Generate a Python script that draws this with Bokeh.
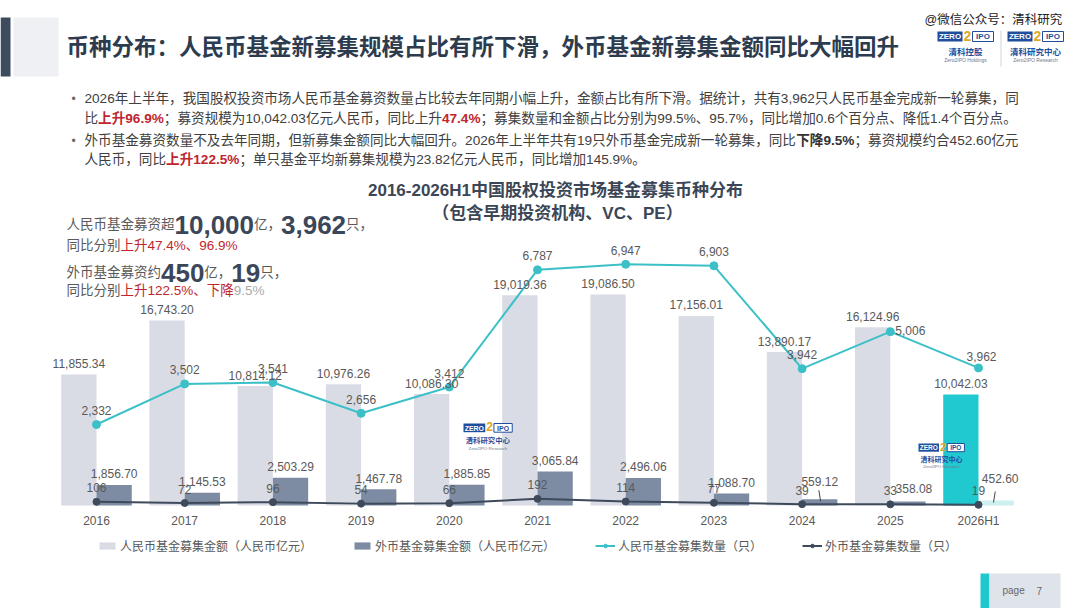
from bokeh.plotting import figure
from bokeh.models import ColumnDataSource, Range1d, Label, BoxAnnotation, Legend, LegendItem
from bokeh.core.properties import value
from bokeh.embed import file_html
from bokeh.resources import INLINE

# ---------------- data ----------------
years = ["2016", "2017", "2018", "2019", "2020", "2021", "2022", "2023", "2024", "2025", "2026H1"]
rmb_amount = [11855.34, 16743.20, 10814.12, 10976.26, 10086.30, 19019.36, 19086.50, 17156.01, 13890.17, 16124.96, 10042.03]
fx_amount = [1856.70, 1145.53, 2503.29, 1467.78, 1885.85, 3065.84, 2496.06, 1088.70, 559.12, 358.08, 452.60]
rmb_count = [2332, 3502, 3541, 2656, 3412, 6787, 6947, 6903, 3942, 5006, 3962]
fx_count = [106, 72, 96, 54, 66, 192, 114, 77, 39, 33, 19]

legend_labels = ["人民币基金募集金额（人民币亿元）", "外币基金募集金额（人民币亿元）",
                 "人民币基金募集数量（只）", "外币基金募集数量（只）"]

page_title = "币种分布：人民币基金新募集规模占比有所下滑，外币基金新募集金额同比大幅回升"
chart_title_1 = "2016-2026H1中国股权投资市场基金募集币种分布"
chart_title_2 = "（包含早期投资机构、VC、PE）"

# ---------------- style ----------------
FONT = "'Liberation Sans', 'Noto Sans CJK SC'"
GRAY = "#595959"
BODY = "#404040"
DARK = "#2d3b4f"
NUMDARK = "#3b4759"
RED = "#c0262d"
RMB_C = "#d9dce5"
FX_C = "#7d8ca3"
HL_RMB = "#1fc9cf"
HL_FX = "#cdeff0"
LINE_RMB = "#3cc0c8"
LINE_FX = "#3e4a5b"

W, H = 1080, 608
X0, STEP, BASE = 96.0, 88.2, 505.0      # pixel of first category, spacing, baseline
AMT_PX = 90.5                          # amount units per pixel
CNT_PX = 28.8                          # count units per pixel

p = figure(width=W, height=H, title=None, output_backend="svg", toolbar_location=None,
           x_range=Range1d(-X0 / STEP, (W - X0) / STEP),
           y_range=Range1d(-(H - BASE) * AMT_PX, BASE * AMT_PX),
           x_axis_type=None, y_axis_type=None, min_border=0,
           outline_line_color=None, background_fill_color="white", border_fill_color="white")
p.extra_y_ranges = {"cnt": Range1d(-(H - BASE) * CNT_PX, BASE * CNT_PX)}


def SY(y):
    return H - y


LAT = {".": 0.278, ",": 0.278, "%": 0.889, "-": 0.333, " ": 0.278, "H": 0.722,
       "V": 0.667, "C": 0.722, "P": 0.667, "E": 0.667, "@": 1.015}


def tw(s, size):
    w = 0.0
    for ch in s:
        if ord(ch) >= 0x2E80:
            w += 1.0
        elif ch.isdigit():
            w += 0.556
        else:
            w += LAT.get(ch, 0.6)
    return w * size


def lab(x, y, text, size, color=GRAY, bold=False, align="left", baseline="middle"):
    p.add_layout(Label(x=x, y=SY(y), x_units="screen", y_units="screen", text=text,
                       text_font=FONT, text_font_size=f"{size}px", text_color=color,
                       text_font_style="bold" if bold else "normal",
                       text_align=align, text_baseline=baseline))


def rich(x, y, segs, baseline="alphabetic"):
    for text, size, color, bold in segs:
        lab(x, y, text, size, color, bold, baseline=baseline)
        x += tw(text, size)


def box(l, t, r, b, color, line=None):
    p.add_layout(BoxAnnotation(left=l, right=r, top=SY(t), bottom=SY(b),
                               left_units="screen", right_units="screen",
                               top_units="screen", bottom_units="screen",
                               fill_color=color, fill_alpha=1.0,
                               line_color=line, line_alpha=1.0 if line else 0.0, line_width=1))


def logo(x, y, sub1, sub2, s=1.0):
    box(x, y, x + 25 * s, y + 10 * s, "#1f4e9c")
    lab(x + 12.5 * s, y + 5.2 * s, "ZERO", 8 * s, "white", True, "center")
    lab(x + 30 * s, y + 4 * s, "2", 14 * s, "#e0a826", True, "center")
    box(x + 35 * s, y, x + 56 * s, y + 10 * s, "white", "#1f4e9c")
    lab(x + 45.5 * s, y + 5.2 * s, "IPO", 8 * s, "#1f4e9c", True, "center")
    lab(x + 28 * s, y + 20 * s, sub1, 8.5 * s, "#1f4e9c", True, "center")
    lab(x + 28 * s, y + 28.5 * s, sub2, 5 * s, "#6b7a90", False, "center")


# ---------------- header ----------------
box(0, 17, 10, 76, "#3d4b5e")
box(13, 17, 58, 76, "#eef0f4")
lab(66, 47, page_title, 22.5, DARK, True)
lab(924, 19, "@微信公众号：清科研究", 12.5, "#222222")
logo(937, 31, "清科控股", "Zero2IPO Holdings")
box(1000, 30, 1001, 66, "#d0d4da")
logo(1007, 31, "清科研究中心", "Zero2IPO Research")

BS = 13.6
bullets = [
    (98, [("2026年上半年，我国股权投资市场人民币基金募资数量占比较去年同期小幅上升，金额占比有所下滑。据统计，共有3,962只人民币基金完成新一轮募集，同", BODY, False)], True),
    (118, [("比", BODY, False), ("上升96.9%", RED, True),
           ("；募资规模为10,042.03亿元人民币，同比上升", BODY, False), ("47.4%", RED, True),
           ("；募集数量和金额占比分别为99.5%、95.7%，同比增加0.6个百分点、降低1.4个百分点。", BODY, False)], False),
    (140, [("外币基金募资数量不及去年同期，但新募集金额同比大幅回升。2026年上半年共有19只外币基金完成新一轮募集，同比", BODY, False),
           ("下降9.5%", "#333333", True), ("；募资规模约合452.60亿元", BODY, False)], True),
    (159, [("人民币，同比", BODY, False), ("上升122.5%", RED, True),
           ("；单只基金平均新募集规模为23.82亿元人民币，同比增加145.9%。", BODY, False)], False),
]
for yy, segs, dot in bullets:
    if dot:
        lab(71, yy, "•", 12, "#666666")
    rich(84, yy, [(t, BS, c, b) for t, c, b in segs], baseline="middle")

# chart titles
lab(555, 190, chart_title_1, 17, "#3b4656", True, "center")
lab(557, 213, chart_title_2, 17, "#3b4656", True, "center")

# left call-out
rich(66, 224, [("人民币基金募资超", 13.5, GRAY, False), ("10,000", 26, NUMDARK, True),
               ("亿，", 13.5, GRAY, False), ("3,962", 26, NUMDARK, True), ("只，", 13.5, GRAY, False)])
rich(66, 245, [("同比分别", 13.5, GRAY, False), ("上升47.4%、96.9%", 13.5, RED, False)])
rich(66, 272, [("外币基金募资约", 13.5, GRAY, False), ("450", 26, NUMDARK, True),
               ("亿，", 13.5, GRAY, False), ("19", 26, NUMDARK, True), ("只，", 13.5, GRAY, False)])
rich(66, 290, [("同比分别", 13.5, GRAY, False), ("上升122.5%、下降", 13.5, RED, False), ("9.5%", 13.5, "#aaaaaa", False)])

# ---------------- chart ----------------
n = len(years)
idx = list(range(n))
last = n - 1

rc_dx = [0] * n
rc_dy = [-14] * n
rc_dx[9], rc_dy[9] = 20, -1
rc_dx[10], rc_dy[10] = 3, -11
fx_dx = [0] * n
fx_dy = [-11] * n
fx_dy[8] = -18
fx_dx[9], fx_dy[9] = 6, -13
fx_dx[10], fx_dy[10] = 4, -22

src = ColumnDataSource(dict(
    x=idx, xr=[i - 0.2 for i in idx], xf=[i + 0.2 for i in idx], year=years,
    rmb=rmb_amount, fx=fx_amount, rc=rmb_count, fc=fx_count,
    rmb_lbl=[f"{v:,.2f}" for v in rmb_amount], fx_lbl=[f"{v:,.2f}" for v in fx_amount],
    rc_lbl=[f"{v:,}" for v in rmb_count], fc_lbl=[f"{v:,}" for v in fx_count],
    rmb_col=[HL_RMB if i == last else RMB_C for i in idx],
    fx_col=[HL_FX if i == last else FX_C for i in idx],
    rc_dx=rc_dx, rc_dy=rc_dy, fx_dx=fx_dx, fx_dy=fx_dy,
))

r_rmb = p.vbar(x="xr", top="rmb", bottom=0, width=0.4, fill_color="rmb_col", line_color=None, source=src)
r_fx = p.vbar(x="xf", top="fx", bottom=0, width=0.4, fill_color="fx_col", line_color=None, source=src)

# leader lines for the smallest foreign-currency bars
lead = [8, 10]
p.segment(x0=[idx[i] + 0.19 for i in lead], y0=[fx_amount[i] + 9 * AMT_PX for i in lead],
          x1=[idx[i] + 0.21 if i == 8 else idx[i] + 0.17 for i in lead],
          y1=[fx_amount[i] - 2 * AMT_PX for i in lead], line_color="#444444", line_width=1)

r_l1 = p.line(x="x", y="rc", y_range_name="cnt", line_color=LINE_RMB, line_width=2, source=src)
r_d1 = p.scatter(x="x", y="rc", y_range_name="cnt", size=8, fill_color=LINE_RMB, line_color=LINE_RMB, source=src)
r_l2 = p.line(x="x", y="fc", y_range_name="cnt", line_color=LINE_FX, line_width=2, source=src)
r_d2 = p.scatter(x="x", y="fc", y_range_name="cnt", size=7, fill_color=LINE_FX, line_color=LINE_FX, source=src)

tkw = dict(text_font=value(FONT), text_font_size="12px", text_color=GRAY,
           text_align="center", text_baseline="middle", source=src)
p.text(x="xr", y="rmb", text="rmb_lbl", y_offset=-11, **tkw)
p.text(x="xf", y="fx", text="fx_lbl", x_offset="fx_dx", y_offset="fx_dy", **tkw)
p.text(x="x", y="rc", text="rc_lbl", y_range_name="cnt", x_offset="rc_dx", y_offset="rc_dy", **tkw)
p.text(x="x", y="fc", text="fc_lbl", y_range_name="cnt", y_offset=-14, **tkw)
p.text(x="x", y=0, text="year", y_offset=15, **tkw)

# in-chart watermarks
logo(463, 423, "清科研究中心", "Zero2IPO Research", 0.87)
logo(918, 443, "清科研究中心", "Zero2IPO Research", 0.82)

# legend
legend = Legend(items=[
    LegendItem(label=legend_labels[0], renderers=[r_rmb], index=0),
    LegendItem(label=legend_labels[1], renderers=[r_fx], index=0),
    LegendItem(label=legend_labels[2], renderers=[r_l1, r_d1]),
    LegendItem(label=legend_labels[3], renderers=[r_l2, r_d2]),
], orientation="horizontal", location=(97, 53), spacing=40, glyph_width=20, glyph_height=9,
    label_standoff=3, label_text_font=FONT, label_text_font_size="12px", label_text_color=GRAY,
    label_height=20, padding=0, margin=0, border_line_alpha=0, background_fill_alpha=0)
p.add_layout(legend)

# footer page box
box(980, 573, 989, 608, "#1fc8cc")
box(989, 573, 1060, 608, "#dfe3ea")
lab(1002, 590, "page", 10, "#666666")
lab(1036, 590, "7", 10, "#666666")

open("out.html", "w").write(file_html(p, INLINE))
